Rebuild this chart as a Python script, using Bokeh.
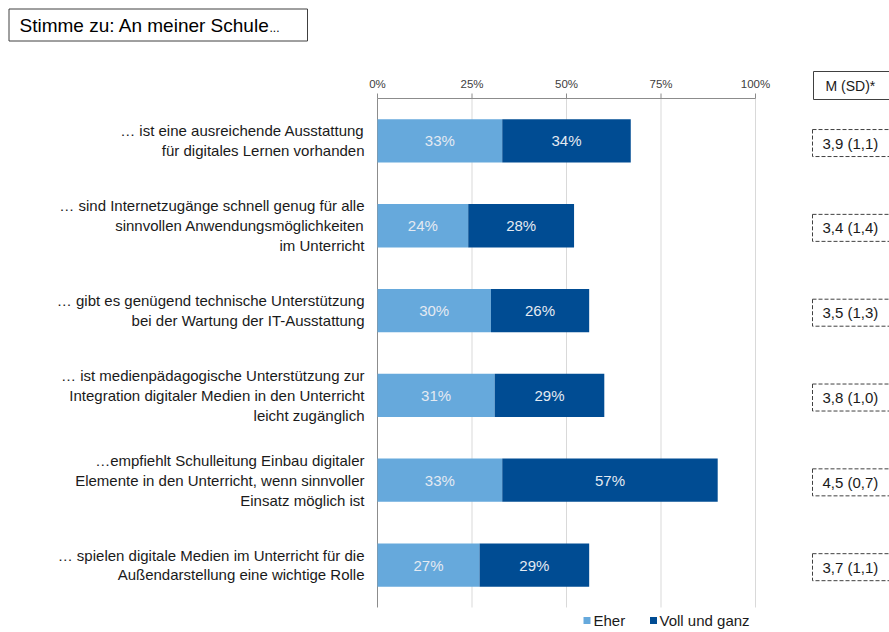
from bokeh.plotting import figure
from bokeh.models import Range1d, ColumnDataSource
from bokeh.core.properties import value
from bokeh.embed import file_html
from bokeh.resources import INLINE

# ---------------- data ----------------
categories = [
    "… ist eine ausreichende Ausstattung\nfür digitales Lernen vorhanden",
    "… sind Internetzugänge schnell genug für alle\nsinnvollen Anwendungsmöglichkeiten\nim Unterricht",
    "… gibt es genügend technische Unterstützung\nbei der Wartung der IT-Ausstattung",
    "… ist medienpädagogische Unterstützung zur\nIntegration digitaler Medien in den Unterricht\nleicht zugänglich",
    "…empfiehlt Schulleitung Einbau digitaler\nElemente in den Unterricht, wenn sinnvoller\nEinsatz möglich ist",
    "… spielen digitale Medien im Unterricht für die\nAußendarstellung eine wichtige Rolle",
]
eher = [33, 24, 30, 31, 33, 27]
voll = [34, 28, 26, 29, 57, 29]
m_sd = ["3,9 (1,1)", "3,4 (1,4)", "3,5 (1,3)", "3,8 (1,0)", "4,5 (0,7)", "3,7 (1,1)"]
tick_values = [0, 25, 50, 75, 100]
tick_labels = ["0%", "25%", "50%", "75%", "100%"]
series_names = ["Eher", "Voll und ganz"]
title_text = "Stimme zu: An meiner Schule"
msd_header = "M (SD)*"

# ---------------- styling ----------------
C_LIGHT = "#66A9DC"
C_DARK = "#004C93"
FONT = value("Liberation Sans")
W, H = 889, 632
ORIGIN = 0  # page offset of the canvas (page renders without body margin)

# layout mapping (page pixels -> data units), used only for decorations
X0_PX, PX_PER_PCT = 377.0, 3.78
Y0_PX, PX_PER_ROW = 98.0, 84.83


def PX(px):
    return (px - X0_PX) / PX_PER_PCT


def PY(py):
    return (py - Y0_PX) / PX_PER_ROW - 0.5


p = figure(width=W, height=H, output_backend="svg", toolbar_location=None,
           title=None, x_axis_location=None, y_axis_location=None,
           x_range=Range1d(PX(ORIGIN), PX(ORIGIN + W)),
           y_range=Range1d(PY(ORIGIN + H), PY(ORIGIN)),
           min_border=0, outline_line_color=None, background_fill_color="white")
p.xgrid.grid_line_color = None
p.ygrid.grid_line_color = None

n = len(categories)
rows = list(range(n))

# gridlines
top, bottom = -0.5, n - 0.5
p.segment(x0=tick_values[1:], x1=tick_values[1:], y0=[top] * 4, y1=[bottom] * 4,
          line_color="#D9D9D9", line_width=1)
# left axis line
p.segment(x0=[0], x1=[0], y0=[top], y1=[bottom], line_color="#8C8C8C", line_width=1)
# top axis line + ticks
p.segment(x0=[0], x1=[100], y0=[top], y1=[top], line_color="#8C8C8C", line_width=1)
p.segment(x0=tick_values, x1=tick_values, y0=[top] * 5, y1=[PY(93)] * 5,
          line_color="#8C8C8C", line_width=1)
p.text(x=tick_values, y=[PY(83)] * 5, text=tick_labels, text_align="center",
       text_baseline="middle", text_font=FONT, text_font_size="11.5px",
       text_color="#404040")

# bars
cum = [a + b for a, b in zip(eher, voll)]
src = ColumnDataSource(dict(y=rows, eher=eher, voll=voll, cum=cum,
                            zero=[0] * n,
                            lab_e=[f"{v}%" for v in eher],
                            lab_v=[f"{v}%" for v in voll],
                            mid_e=[v / 2 for v in eher],
                            mid_v=[a + b / 2 for a, b in zip(eher, voll)],
                            cat=categories, msd=m_sd,
                            ybox=[r + 0.025 for r in rows]))
p.hbar(y="y", left="zero", right="eher", height=0.51, source=src,
       fill_color=C_LIGHT, line_color=None)
p.hbar(y="y", left="eher", right="cum", height=0.51, source=src,
       fill_color=C_DARK, line_color=None)
p.text(x="mid_e", y="y", text="lab_e", source=src, text_align="center",
       text_baseline="middle", text_font=FONT, text_font_size="15px",
       text_color="#E4EAF2")
p.text(x="mid_v", y="y", text="lab_v", source=src, text_align="center",
       text_baseline="middle", text_font=FONT, text_font_size="15px",
       text_color="#E4EAF2")

# category labels
p.text(x=PX(364), y="y", text="cat", source=src, text_align="right",
       text_baseline="middle", text_font=FONT, text_font_size="15px",
       text_color="#1A1A1A", text_line_height=1.17)

# M (SD) boxes
bh = 27 / PX_PER_ROW
p.quad(left=[PX(812)] * n, right=[PX(910)] * n,
       top=[r - bh / 2 + 0.025 for r in rows], bottom=[r + bh / 2 + 0.025 for r in rows],
       fill_color="white", line_color="#404040", line_dash="4 2", line_width=1)
p.text(x=PX(822), y="ybox", text="msd", source=src,
       text_align="left", text_baseline="middle", text_font=FONT,
       text_font_size="15px", text_color="#1A1A1A")

# M (SD) header
p.quad(left=[PX(813)], right=[PX(910)], top=[PY(71)], bottom=[PY(99)],
       fill_color="white", line_color="#404040", line_width=1)
p.text(x=[PX(825)], y=[PY(85.5)], text=[msd_header], text_align="left",
       text_baseline="middle", text_font=FONT, text_font_size="14px",
       text_color="#1A1A1A")

# title box
p.quad(left=[PX(8.5)], right=[PX(307)], top=[PY(8.5)], bottom=[PY(40.5)],
       fill_color="white", line_color="#404040", line_width=1)
p.text(x=[PX(19)], y=[PY(24.5)], text=[title_text], text_align="left",
       text_baseline="middle", text_font=FONT, text_font_size="19px",
       text_color="#000000")
p.text(x=[PX(269)], y=[PY(27)], text=["..."], text_align="left",
       text_baseline="middle", text_font=FONT, text_font_size="12px",
       text_color="#000000")

# legend
ly = PY(620)
p.scatter(x=[PX(586.5), PX(653)], y=[ly, ly], marker="square", size=7,
          fill_color=[C_LIGHT, C_DARK], line_color=None)
p.text(x=[PX(593), PX(659)], y=[ly, ly], text=series_names, text_align="left",
       text_baseline="middle", text_font=FONT, text_font_size="15px",
       text_color="#1A1A1A")

open("out.html", "w").write(file_html(p, INLINE))
